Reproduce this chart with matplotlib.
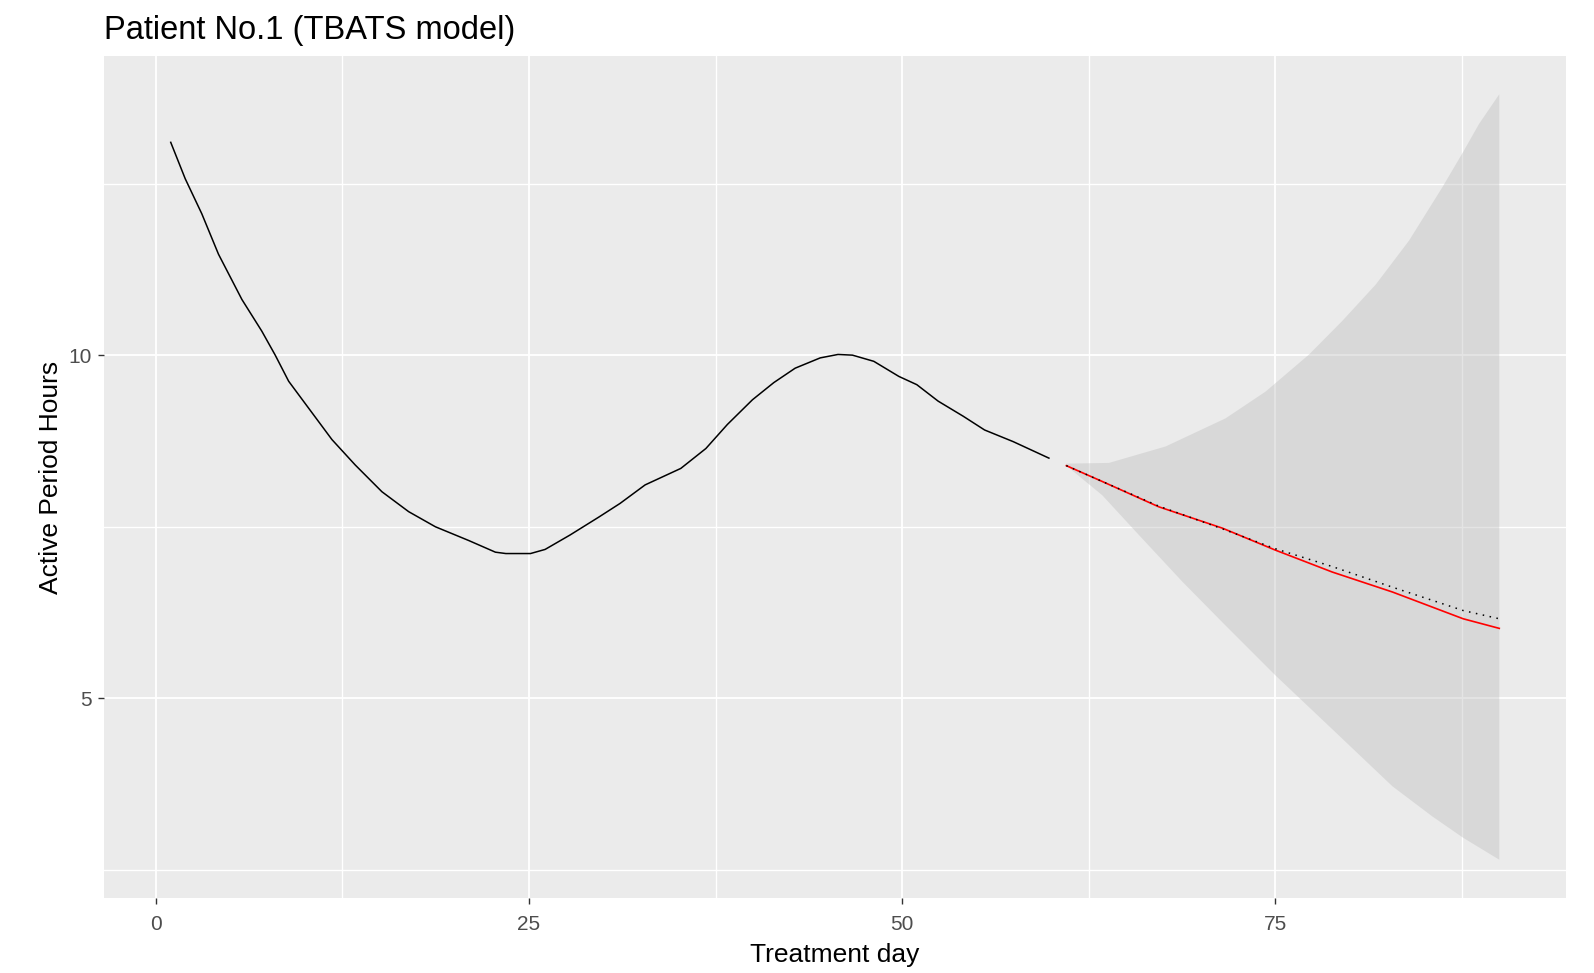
import matplotlib
matplotlib.use("Agg")
import matplotlib.pyplot as plt
from matplotlib.ticker import FixedLocator
import numpy as np

plt.rcParams['font.family'] = ['Liberation Sans', 'DejaVu Sans']

# ---- data ----
hist_day = [1, 1.97, 3.08, 4.2, 5.77, 7.1, 8.0, 8.9, 10.23, 11.8, 13.36, 15.15,
            16.94, 18.73, 20.96, 22.75, 23.45, 24.3, 25.1, 26.08, 27.75, 29.67,
            31.1, 32.78, 35.17, 36.85, 38.29, 39.97, 41.4, 42.83, 44.51, 45.7,
            46.67, 48.1, 49.78, 50.98, 52.41, 54.09, 55.52, 57.44, 59.83]
hist_val = [13.10, 12.57, 12.06, 11.47, 10.81, 10.35, 10.0, 9.62, 9.23, 8.77,
            8.40, 8.01, 7.72, 7.50, 7.30, 7.13, 7.11, 7.11, 7.11, 7.17, 7.38,
            7.64, 7.84, 8.11, 8.35, 8.64, 8.99, 9.35, 9.60, 9.81, 9.96, 10.01,
            10.0, 9.91, 9.69, 9.57, 9.33, 9.11, 8.91, 8.74, 8.50]

fc_day = [61, 63.4, 67.2, 71.45, 75.0, 78.82, 82.84, 87.58, 90]
fc_val = [8.39, 8.16, 7.79, 7.48, 7.16, 6.84, 6.55, 6.16, 6.02]

dot_day = [61, 63.4, 67.2, 71.45, 75.0, 78.82, 82.84, 87.58, 90]
dot_val = [8.39, 8.16, 7.80, 7.47, 7.18, 6.92, 6.62, 6.28, 6.16]

up_day = [61, 63.85, 67.65, 71.67, 74.35, 77.26, 79.49, 81.73, 83.96, 86.2,
          87.58, 88.65, 90]
up_val = [8.42, 8.43, 8.67, 9.08, 9.47, 10.01, 10.50, 11.03, 11.67, 12.45,
          12.96, 13.37, 13.80]

lo_day = [61, 63.4, 65.86, 68.77, 71.67, 75.03, 78.82, 82.84, 85.52, 87.58, 90]
lo_val = [8.39, 7.96, 7.38, 6.70, 6.06, 5.33, 4.55, 3.72, 3.28, 2.97, 2.65]

x_major = [0, 25, 50, 75]
x_minor = [12.5, 37.5, 62.5, 87.5]
y_major = [5, 10]
y_minor = [2.5, 7.5, 12.5]

title = "Patient No.1 (TBATS model)"
xlabel = "Treatment day"
ylabel = "Active Period Hours"

# ---- figure ----
W, H = 1594, 973
fig = plt.figure(figsize=(W / 100, H / 100), dpi=100)
ax = fig.add_axes([104.3 / W, (H - 898) / H, (1565.7 - 104.3) / W, (898 - 56) / H])
ax.set_facecolor('#EBEBEB')
for s in ax.spines.values():
    s.set_visible(False)

# limits with ggplot-like 5% expansion
all_x = hist_day + fc_day + up_day + lo_day
all_y = hist_val + fc_val + up_val + lo_val + dot_val
x0, x1 = min(all_x), max(all_x)
y0, y1 = min(all_y), max(all_y)
ax.set_xlim(x0 - 0.05 * (x1 - x0), x1 + 0.05 * (x1 - x0))
ax.set_ylim(y0 - 0.05 * (y1 - y0), y1 + 0.05 * (y1 - y0))

ax.xaxis.set_major_locator(FixedLocator(x_major))
ax.xaxis.set_minor_locator(FixedLocator(x_minor))
ax.yaxis.set_major_locator(FixedLocator(y_major))
ax.yaxis.set_minor_locator(FixedLocator(y_minor))
ax.set_axisbelow(True)
ax.grid(which='major', color='white', linewidth=1.3)
ax.grid(which='minor', color='white', linewidth=1.0)
ax.tick_params(which='major', length=4, width=1.0, color='#333333',
               labelcolor='#4D4D4D', labelsize=15)
ax.tick_params(axis='x', which='major', pad=8)
ax.tick_params(axis='y', which='major', pad=5)
ax.tick_params(which='minor', length=0)

# ribbon
poly_x = list(up_day) + list(reversed(lo_day))
poly_y = list(up_val) + list(reversed(lo_val))
ax.fill(poly_x, poly_y, color='#BDBDBD', alpha=0.4, linewidth=0, zorder=2)

ax.plot(hist_day, hist_val, color='black', linewidth=1.1, zorder=3)
ax.plot(fc_day, fc_val, color='#FF0000', linewidth=1.2, zorder=3)
ax.plot(dot_day, dot_val, color='black', linewidth=1.1, linestyle=(0, (1, 3.6)), zorder=4)

ax.set_xlabel(xlabel, fontsize=19, color='black', labelpad=7)
ax.set_ylabel(ylabel, fontsize=19, color='black', labelpad=4)

fig.text(104.3 / W, (H - 39) / H, title, fontsize=23.5, color='black',
         ha='left', va='baseline')

fig.savefig('out.png', dpi=100)
